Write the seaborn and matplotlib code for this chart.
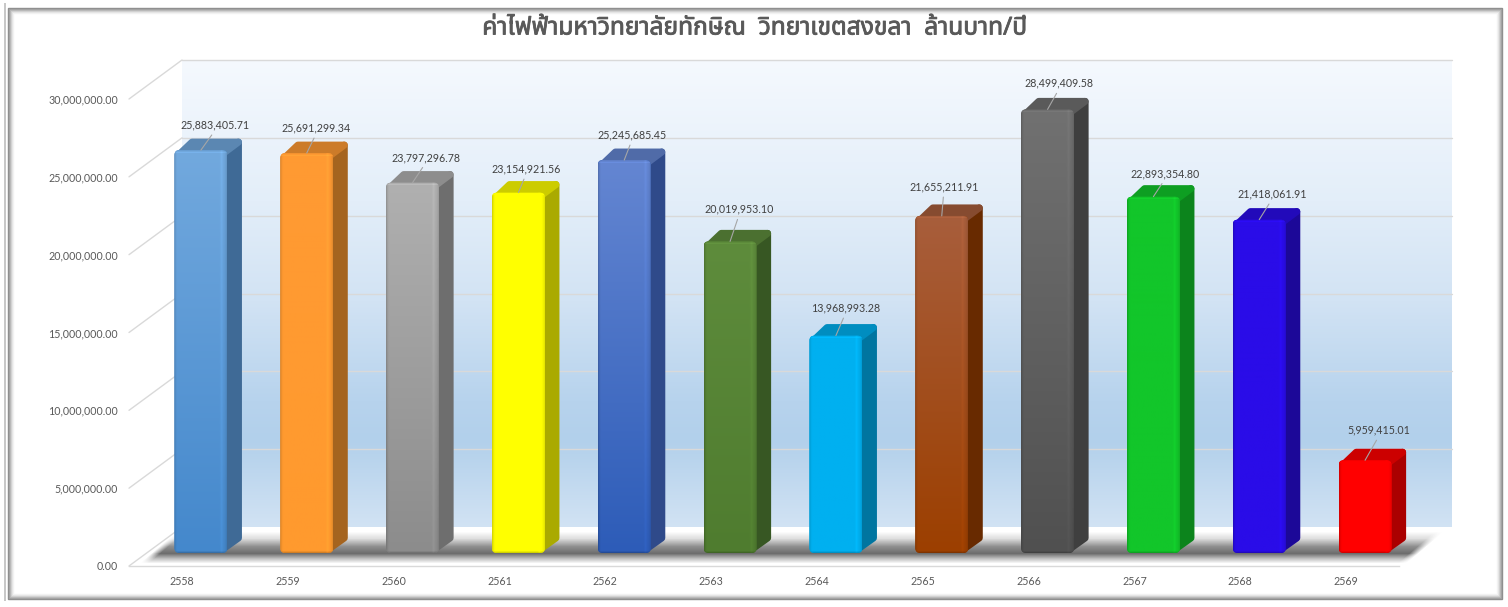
import numpy as np
import pandas as pd
import seaborn as sns
import matplotlib
matplotlib.use('Agg')
import matplotlib.pyplot as plt
from matplotlib import transforms as mtrans
from matplotlib import patheffects
from matplotlib.patches import Polygon, FancyBboxPatch, Rectangle

years = ['2558', '2559', '2560', '2561', '2562', '2563', '2564', '2565', '2566', '2567', '2568', '2569']
values = [25883405.71, 25691299.34, 23797296.78, 23154921.56, 25245685.45, 20019953.10,
          13968993.28, 21655211.91, 28499409.58, 22893354.80, 21418061.91, 5959415.01]
y_ticks = [0, 5000000, 10000000, 15000000, 20000000, 25000000, 30000000]
title = 'ค่าไฟฟ้ามหาวิทยาลัยทักษิณ  วิทยาเขตสงขลา  ล้านบาท/ปี'

# front face colour, top and bottom of the bar, then the side colour
face_top = ['#72a9de', '#ff9a33', '#b0b0b0', '#ffff00', '#6486d2', '#5e8c3c',
            '#00b0f0', '#a85e3c', '#717171', '#12c62a', '#2a0ce8', '#ff0000']
face_bot = ['#4488cc', '#ff9a2e', '#8c8c8c', '#ffff00', '#2d5cb8', '#4f7c2f',
            '#00b0f0', '#9c3f00', '#505050', '#12c62a', '#2a0ce8', '#ff0000']
side_col = ['#3f6a96', '#a5641f', '#6e6e6e', '#aaaa00', '#2f4a8a', '#375723',
            '#0075a0', '#682a00', '#3f3f3f', '#0c841c', '#1c0898', '#aa0000']

# label placement against the top of each bar, in pixels
label_dx = [14, 9.5, 13, 7.5, 7.5, 9, 9.5, 2, 11.5, 11.5, 12.5, 14]
label_dy = [25, 25, 25, 23.5, 25, 32, 27.5, 29, 26, 23, 25.5, 30]

W, H = 1508, 607
sns.set_theme(style='white')
plt.rcParams['font.family'] = ['Lato', 'DejaVu Sans']

fig = plt.figure(figsize=(W / 100, H / 100), dpi=100, facecolor='white')

# background layer in picture pixels
bg = fig.add_axes([0, 0, 1, 1], zorder=0)
bg.axis('off')

# wall
stops_y = [60, 200, 300, 400, 440, 527]
stops_c = ['#f5f9fe', '#e3eef9', '#d2e3f4', '#b7d3ed', '#b2d0eb', '#d2e3f4']
rows = np.arange(60, 527)
grad = np.stack([np.interp(rows, stops_y, [matplotlib.colors.to_rgb(c)[k] for c in stops_c])
                 for k in range(3)], axis=1)[:, None, :]
bg.imshow(grad, extent=[182, 1452, 527, 60], aspect='auto', zorder=1)

# floor
bg.add_patch(Polygon([(129, 566), (182, 527), (1452, 527), (1399, 566)], fc='white', ec='none', zorder=2))

# gridlines on the wall and the slanted part at the left
for v in y_ticks:
    y = 566 - v / 30000000 * 467
    if v > 0:
        bg.plot([182, 1452], [y - 39, y - 39], color='#d9d9d9', lw=1, zorder=3)
    bg.plot([129, 182], [y, y - 39], color='#d9d9d9', lw=1, zorder=3)

# shadow on the floor
sx = np.arange(140, 1450)
sy = np.arange(525, 568)
xx, yy = np.meshgrid(sx, sy)
left = 146 + (557 - yy) * 32 / 27
right = 1413 + (557 - yy) * 32 / 27
alpha = np.interp(yy, [531, 538, 546, 553, 558, 563], [0, 0.16, 0.55, 0.72, 0.32, 0])
alpha = alpha * np.clip((xx - left) / 9, 0, 1) * np.clip((right - xx) / 9, 0, 1)
shadow = np.zeros(xx.shape + (4,))
shadow[..., :3] = 0.2
shadow[..., 3] = alpha
bg.imshow(shadow, extent=[140, 1450, 568, 525], aspect='auto', zorder=4)

# picture frame
bg.add_patch(Rectangle((3.5, 3), 2, 598, fc='#c8c8c8', ec='none', zorder=6))
frame_col = ['#8c8c8c', '#9f9f9f', '#b5b5b5', '#cdcdcd', '#e2e2e2', '#f2f2f2']
for i, c in enumerate(frame_col):
    bg.add_patch(Rectangle((7.5 + i, 7.5 + i), 1494 - 2 * i, 591 - 2 * i, fc='none', ec=c, lw=1, zorder=6 + i))
bg.set_xlim(0, W)
bg.set_ylim(H, 0)

# front plane of the chart, the bars stand a bit behind it
ax = fig.add_axes([129 / W, (H - 566) / H, 1270 / W, 467 / H], zorder=1)
ax.patch.set_alpha(0)

df = pd.DataFrame({'year': years, 'value': values})
sns.barplot(data=df, x='year', y='value', hue='year', palette=face_bot, legend=False,
            width=0.5, saturation=1, ax=ax)

ax.set_xlim(-0.5, 11.5)
ax.set_ylim(0, 30000000)
ax.set_yticks(y_ticks)
ax.set_yticklabels(['{:,.2f}'.format(v) for v in y_ticks])
ax.set_xlabel('')
ax.set_ylabel('')
ax.tick_params(axis='y', length=0, pad=8, labelsize=7.7, labelcolor='#595959')
ax.tick_params(axis='x', length=0, pad=7, labelsize=7.7, labelcolor='#595959')
sns.despine(ax=ax, left=True, top=True, right=True)
ax.spines['bottom'].set_color('#d9d9d9')
ax.spines['bottom'].set_linewidth(1)

shift = ax.transData + mtrans.Affine2D().translate(19, 13)
raw = mtrans.IdentityTransform()
dep_x, dep_y = 14.6, 11.5

for i, bar in enumerate(ax.patches):
    x0, w, h = bar.get_x(), bar.get_width(), bar.get_height()
    bar.set_transform(shift)
    bar.set_edgecolor('none')
    bar.set_zorder(2.4)

    (px0, py0), (px1, py1) = shift.transform([(x0, 0), (x0 + w, h)])

    # side and top faces, the round edge line softens the corners
    side = [(px1 - 5, py0 + 3.5), (px1 + dep_x - 3.5, py0 + dep_y + 3.5), (px1 + dep_x - 3.5, py1 + dep_y - 3.5),
            (px1 - 5, py1 - 3.5)]
    top = [(px0 + 5, py1 - 4), (px0 + dep_x + 3, py1 + dep_y - 3.5), (px1 + dep_x - 3.5, py1 + dep_y - 3.5),
           (px1 - 5, py1 - 4)]
    top_col = np.array(matplotlib.colors.to_rgb(face_top[i])) * 0.8
    ax.add_patch(Polygon(side, closed=True, fc=side_col[i], ec=side_col[i], lw=5, joinstyle='round',
                         transform=raw, clip_on=False, zorder=2.2))
    ax.add_patch(Polygon(top, closed=True, fc=top_col, ec=top_col, lw=5, joinstyle='round',
                         transform=raw, clip_on=False, zorder=2.3))

    # rounded outline of the front face, used for the bar and its shading
    clip = FancyBboxPatch((px0, py0), px1 - px0, py1 - py0, boxstyle='round,pad=0,rounding_size=5',
                          transform=raw, fc='none', ec='none')
    bar.set_clip_path(clip)

    # vertical gradient and bevelled edges over the bar
    nh, nw = max(int(py1 - py0), 2), max(int(px1 - px0), 2)
    a = np.array(matplotlib.colors.to_rgb(face_top[i]))
    b = np.array(matplotlib.colors.to_rgb(face_bot[i]))
    t = np.linspace(0, 1, nh)[:, None, None]
    img = np.tile(a * (1 - t) + b * t, (1, nw, 1))
    prof = np.ones(nw)
    prof[:3] = [0.85, 0.93, 0.98]
    prof[-7:] = [1.02, 1.05, 1.03, 1.0, 0.98, 0.95, 0.9]
    img = img * prof[None, :, None]
    img[:3] = img[:3] * np.array([0.95, 1.0, 1.06])[:, None, None]
    img[-2:] = img[-2:] * np.array([0.93, 0.82])[:, None, None]
    face = ax.imshow(np.clip(img, 0, 1), extent=[x0, x0 + w, 0, h], origin='upper', aspect='auto',
                     transform=shift, zorder=2.5, interpolation='bilinear')
    face.set_clip_path(clip)

    # value label with its leader line
    ax.annotate('{:,.2f}'.format(values[i]), xy=(i, h), xycoords=shift, xytext=(label_dx[i], label_dy[i]),
                textcoords='offset pixels', ha='center', va='center', fontsize=7.7, color='#404040',
                annotation_clip=False, zorder=5,
                arrowprops=dict(arrowstyle='-', color='#a6a6a6', lw=0.8, relpos=(0.5, 0),
                                shrinkA=1, shrinkB=0))

ax.set_xlim(-0.5, 11.5)
ax.set_ylim(0, 30000000)

fig.text(754 / W, 1 - 28 / H, title, ha='center', va='center', fontsize=17.7, fontweight='bold',
         color='#595959', family=['Noto Sans Thai', 'Anuphan', 'DejaVu Sans'],
         path_effects=[patheffects.withStroke(linewidth=0.6, foreground='#595959')])

fig.savefig('out.png', dpi=100, facecolor='white')
